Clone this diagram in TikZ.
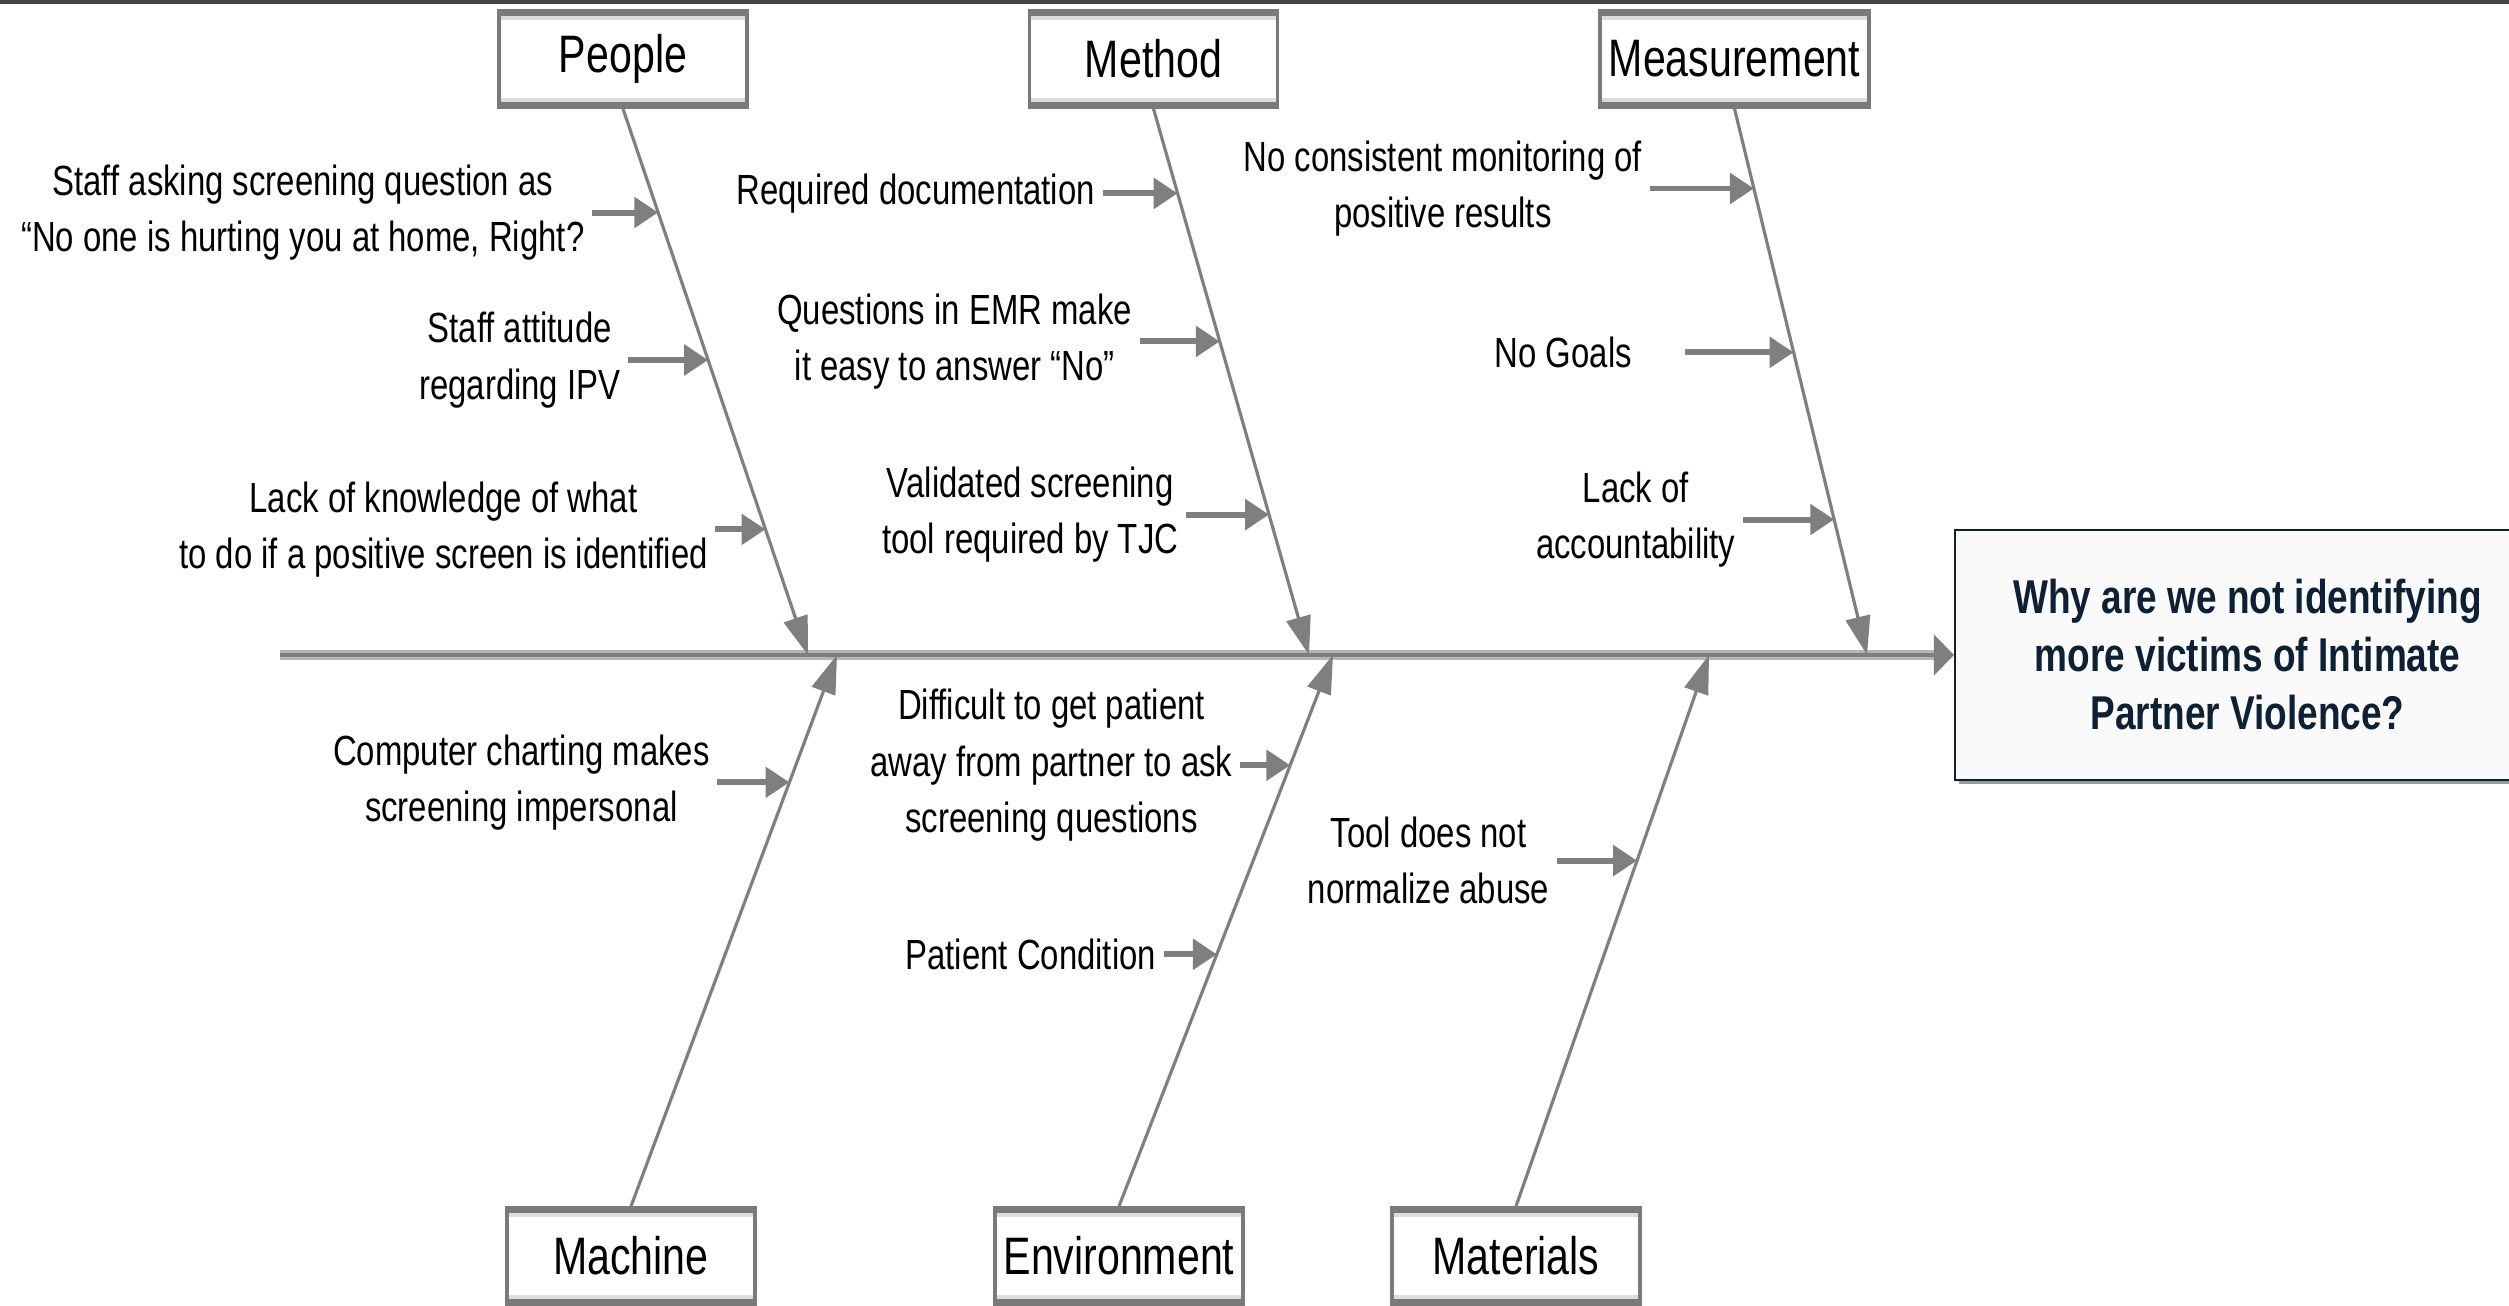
\documentclass[tikz,border=0pt]{standalone}
\usepackage{fontspec}
\setmainfont{Liberation Sans}[FakeStretch=0.78]
\usetikzlibrary{positioning,calc,arrows.meta,shadows}

\definecolor{bonegray}{HTML}{7F7F7F}
\definecolor{spinelight}{HTML}{B5B5B5}
\definecolor{boxgray}{HTML}{7A7A7A}
\definecolor{boxlight}{HTML}{DCDCDC}
\definecolor{navy}{HTML}{0E2033}
\definecolor{effectfill}{HTML}{FAFAFA}
\definecolor{topband}{HTML}{454545}

\begin{document}
\begin{tikzpicture}[
  catbox/.style = {draw=boxgray, line width=1pt, fill=white, minimum width=2.48cm, minimum height=0.96cm, inner sep=0pt,
    font=\fontsize{15}{18}\selectfont,
    path picture={
      \fill[boxgray] (path picture bounding box.north west) rectangle ([yshift=-1.3pt]path picture bounding box.north east);
      \fill[boxlight] ([yshift=-1.3pt]path picture bounding box.north west) rectangle ([yshift=-2.5pt]path picture bounding box.north east);
      \fill[boxgray] (path picture bounding box.south west) rectangle ([yshift=1.3pt]path picture bounding box.south east);
      \fill[boxlight] ([yshift=1.3pt]path picture bounding box.south west) rectangle ([yshift=2.5pt]path picture bounding box.south east);}},
  cause/.style = {align=center, inner sep=2pt, font=\fontsize{12}{16}\selectfont},
  bone/.style = {draw=bonegray, line width=0.9pt, -{Triangle[length=11pt, width=7pt]}},
  causearrow/.style = {draw=bonegray, line width=1.7pt, -{Triangle[length=6.8pt, width=8.5pt]}},
  effect/.style = {draw=navy, line width=0.6pt, fill=effectfill, text=navy, align=center, anchor=west,
    minimum width=5.85cm, minimum height=2.5cm, font=\bfseries\fontsize{13.5}{16.5}\selectfont,
    drop shadow={shadow xshift=1pt, shadow yshift=-1.2pt, fill=gray!80, opacity=1}},
]
\useasboundingbox (0,0) rectangle (25.09,13.05);
\fill[topband] (0,13.01) rectangle (25.09,13.05);

% head and spine
\node[effect] (effect) at (19.54,6.50) {Why are we not identifying\\more victims of Intimate\\Partner Violence?};
\coordinate (tail) at (2.80,6.50);
\draw[spinelight, line width=2.8pt] (tail) -- ([xshift=-5pt]effect.west);
\draw[bonegray, line width=1.2pt, -{Triangle[length=5.7pt, width=11.4pt]}] (tail) -- (effect.west);

% categories
\node[catbox] (people) at (6.23,12.46) {People};
\node[catbox] (method) at (11.535,12.46) {Method};
\node[catbox, minimum width=2.69cm] (measurement) at (17.345,12.46) {Measurement};
\node[catbox] (machine) at (6.31,0.49) {Machine};
\node[catbox] (environment) at (11.19,0.49) {Environment};
\node[catbox] (materials) at (15.16,0.49) {Materials};

\coordinate (pJ) at (8.08,6.50);
\coordinate (mJ) at (13.09,6.50);
\coordinate (meJ) at (18.67,6.50);
\coordinate (maJ) at (8.37,6.50);
\coordinate (eJ) at (13.33,6.50);
\coordinate (mtJ) at (17.09,6.50);

\draw[bone] (people.south) -- (pJ);
\draw[bone] (method.south) -- (mJ);
\draw[bone] (measurement.south) -- (meJ);
\draw[bone] (machine.north) -- (maJ);
\draw[bone] (environment.north) -- (eJ);
\draw[bone] (materials.north) -- (mtJ);

% people
\coordinate (c1) at ($(people.south)!0.19!(pJ)$);
\node[cause, left=0.66cm of c1] (staffAsking) {Staff asking screening question as\\“No one is hurting you at home, Right?};
\draw[causearrow] (staffAsking) -- (c1);
\coordinate (c2) at ($(people.south)!0.46!(pJ)$);
\node[cause, left=0.80cm of c2] (staffAttitude) {Staff attitude\\regarding IPV};
\draw[causearrow] (staffAttitude) -- (c2);
\coordinate (c3) at ($(people.south)!0.77!(pJ)$);
\node[cause, left=0.50cm of c3] (lackKnowledge) {Lack of knowledge of what\\to do if a positive screen is identified};
\draw[causearrow] (lackKnowledge) -- (c3);

% method
\coordinate (c4) at ($(method.south)!0.155!(mJ)$);
\node[cause, left=0.75cm of c4] (reqDoc) {Required documentation};
\draw[causearrow] (reqDoc) -- (c4);
\coordinate (c5) at ($(method.south)!0.426!(mJ)$);
\node[cause, left=0.80cm of c5] (emrQuestions) {Questions in EMR make\\it easy to answer “No”};
\draw[causearrow] (emrQuestions) -- (c5);
\coordinate (c6) at ($(method.south)!0.743!(mJ)$);
\node[cause, left=0.83cm of c6] (validTool) {Validated screening\\tool required by TJC};
\draw[causearrow] (validTool) -- (c6);

% measurement
\coordinate (c7) at ($(measurement.south)!0.146!(meJ)$);
\node[cause, left=1.04cm of c7] (noMonitoring) {No consistent monitoring of\\positive results};
\draw[causearrow] (noMonitoring) -- (c7);
\coordinate (c8) at ($(measurement.south)!0.446!(meJ)$);
\node[cause, left=1.54cm of c8] (noGoals) {No Goals};
\draw[causearrow, shorten <=0.45cm] (noGoals) -- (c8);
\coordinate (c9) at ($(measurement.south)!0.752!(meJ)$);
\node[cause, left=0.91cm of c9] (accountability) {Lack of\\accountability};
\draw[causearrow] (accountability) -- (c9);

% machine
\coordinate (c10) at ($(machine.north)!0.769!(maJ)$);
\node[cause, left=0.72cm of c10] (charting) {Computer charting makes\\screening impersonal};
\draw[causearrow] (charting) -- (c10);

% environment
\coordinate (c11) at ($(environment.north)!0.80!(eJ)$);
\node[cause, left=0.50cm of c11] (awayPartner) {Difficult to get patient\\away from partner to ask\\screening questions};
\draw[causearrow] (awayPartner) -- (c11);
\coordinate (c12) at ($(environment.north)!0.457!(eJ)$);
\node[cause, left=0.53cm of c12] (condition) {Patient Condition};
\draw[causearrow] (condition) -- (c12);

% materials
\coordinate (c13) at ($(materials.north)!0.627!(mtJ)$);
\node[cause, left=0.80cm of c13] (normalize) {Tool does not\\normalize abuse};
\draw[causearrow] (normalize) -- (c13);

\end{tikzpicture}
\end{document}
